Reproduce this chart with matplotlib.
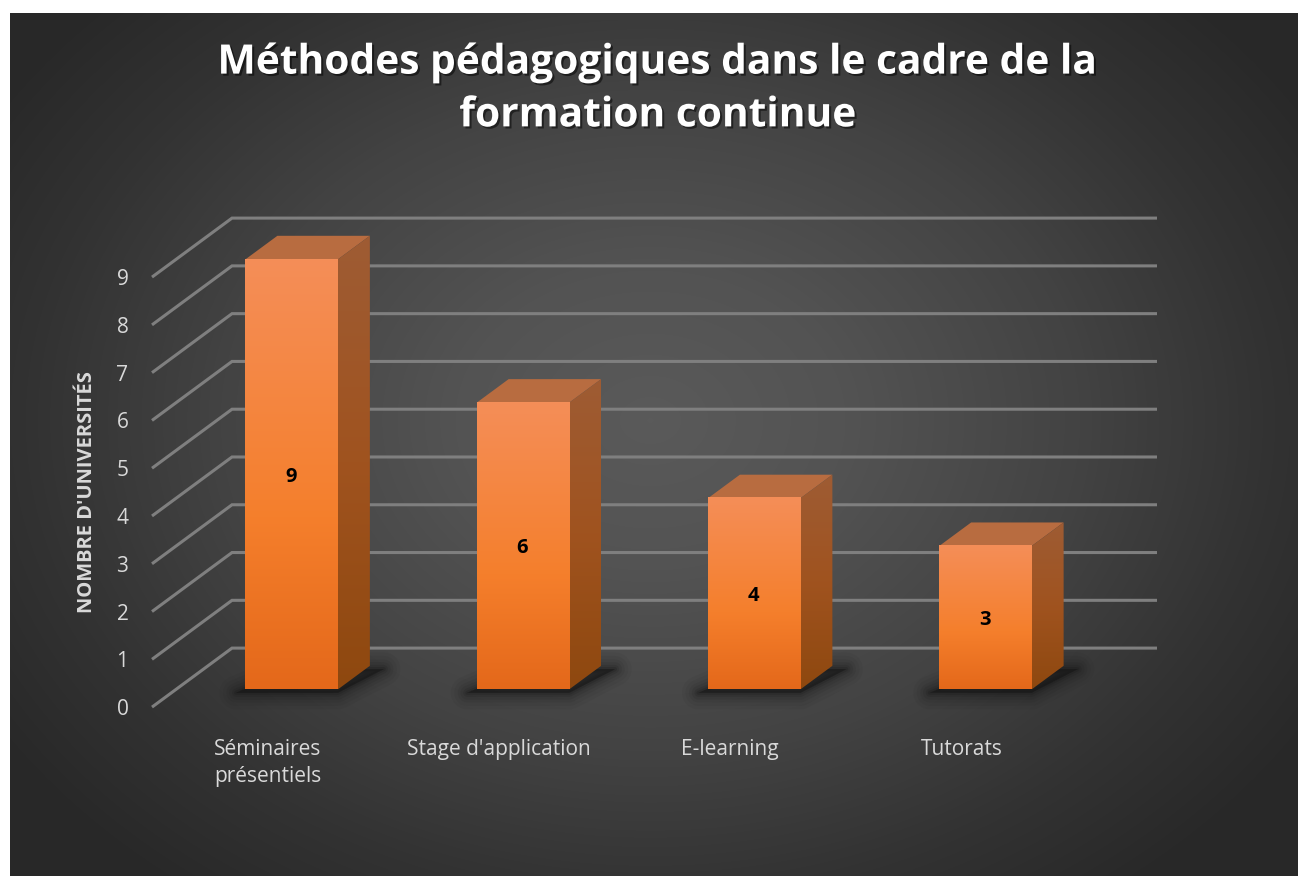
import numpy as np
import matplotlib
matplotlib.use("Agg")
import matplotlib.pyplot as plt
import matplotlib.patheffects as pe
from matplotlib.colors import LinearSegmentedColormap
from matplotlib.patches import Polygon

categories = ["Séminaires\nprésentiels", "Stage d'application", "E-learning", "Tutorats"]
values = [9, 6, 4, 3]
value_ticks = [0, 1, 2, 3, 4, 5, 6, 7, 8, 9]
title = "Méthodes pédagogiques dans le cadre de la\nformation continue"
ylabel = "NOMBRE D'UNIVERSITÉS"

W, H = 1298, 876
plt.rcParams['font.family'] = ['Open Sans', 'DejaVu Sans']
fig = plt.figure(figsize=(W / 100, H / 100), dpi=100, facecolor="white")

# background panel, radial gradient
bg = fig.add_axes([10 / W, 0, (W - 10) / W, (H - 13) / H], zorder=0)
yy, xx = np.mgrid[13:H, 10:W]
r = np.sqrt(((xx - 650) / 780) ** 2 + ((yy - 420) / 600) ** 2)
bg_cmap = LinearSegmentedColormap.from_list("bg", [(0, "#5a5a5a"), (0.25, "#535353"), (0.55, "#434343"),
                                                   (0.8, "#323232"), (1, "#282828")])
bg.imshow(np.clip(r, 0, 1), cmap=bg_cmap, vmin=0, vmax=1, aspect="auto")
bg.axis("off")

# front plane of the 3d box: value 0 at y=707, value 9 at y=277
ax = fig.add_axes([152 / W, (H - 707.1) / H, 925 / W, 430 / H], zorder=1)
ax.patch.set_alpha(0)

# one unit of depth on screen (pixels -> data units)
DX = 80 / 231.25
DY = 59 / (430 / 9)
BAR_HALF = 0.2
D_FRONT, D_BACK = 0.3, 0.7


def pt(x, v, d):
    return (x + d * DX, v + d * DY)


# grid on the wall and the back plane
for v in value_ticks:
    xs, ys = zip(pt(-0.5, v, 0), pt(-0.5, v, 1), pt(3.5, v, 1))
    ax.plot(xs, ys, color="#7f7f7f", lw=2.2, clip_on=False, zorder=1,
            solid_joinstyle="miter", solid_capstyle="butt")

front_cmap = LinearSegmentedColormap.from_list("front", [(0, "#f48e58"), (0.6, "#f57f2c"), (1, "#e4681a")])
side_cmap = LinearSegmentedColormap.from_list("side", ["#9e5c34", "#a0531f", "#8e480f"])
grad = np.linspace(0, 1, 256).reshape(-1, 1)

for i, v in enumerate(values):
    x0, x1 = i - BAR_HALF, i + BAR_HALF

    # soft shadow on the floor
    floor = [pt(x0 - 0.04, -0.07, D_FRONT), pt(x1, -0.07, D_FRONT),
             pt(x1 + 0.06, -0.07, D_BACK), pt(x0 + 0.06, -0.07, D_BACK)]
    for lw, a in [(24, 0.05), (19, 0.06), (14, 0.08), (10, 0.1), (6, 0.14), (3, 0.2)]:
        ax.add_patch(Polygon(floor, closed=True, fc="#141414", ec="#141414", lw=lw,
                             alpha=a, clip_on=False, zorder=2, joinstyle="round"))

    # top face
    ax.add_patch(Polygon([pt(x0, v, D_FRONT), pt(x1, v, D_FRONT), pt(x1, v, D_BACK), pt(x0, v, D_BACK)],
                         closed=True, fc="#b86c40", ec="none", clip_on=False, zorder=3))

    # side face with gradient
    side = Polygon([pt(x1, 0, D_FRONT), pt(x1, v, D_FRONT), pt(x1, v, D_BACK), pt(x1, 0, D_BACK)],
                   closed=True, fc="none", ec="none", transform=ax.transData)
    ax.add_patch(side)
    sx0, sb = pt(x1, 0, D_FRONT)
    sx1, st = pt(x1, v, D_BACK)
    im = ax.imshow(grad, cmap=side_cmap, aspect="auto", extent=(sx0, sx1, sb, st), zorder=3)
    im.set_clip_path(side)
    im.set_clip_box(fig.bbox)

    # front face with gradient
    fx0, fb = pt(x0, 0, D_FRONT)
    fx1, ft = pt(x1, v, D_FRONT)
    ax.imshow(grad, cmap=front_cmap, aspect="auto", extent=(fx0, fx1, fb, ft), zorder=4, clip_on=False)

    lx, ly = pt(i, v / 2 - 0.05, D_FRONT)
    ax.text(lx - 0.003, ly, str(v), ha="center", va="center", color="black",
            fontsize=14.5, fontweight="bold", zorder=5)

ax.set_xlim(-0.5, 3.5)
ax.set_ylim(0, 9)
ax.set_xticks(range(len(categories)))
ax.set_xticklabels(categories, linespacing=1.38)
ax.set_yticks(value_ticks)
ax.tick_params(axis="both", length=0, colors="#d9d9d9", labelsize=15)
ax.tick_params(axis="x", pad=23)
ax.tick_params(axis="y", pad=17)
for s in ax.spines.values():
    s.set_visible(False)
ax.set_ylabel(ylabel, color="#d9d9d9", fontsize=14.5, fontweight="bold", labelpad=14)

fig.text(658 / W, 1 - 89.5 / H, title, ha="center", va="center", color="white",
         fontsize=29.3, fontweight="bold", linespacing=1.38, zorder=5,
         path_effects=[pe.withSimplePatchShadow(offset=(1.5, -1.5), shadow_rgbFace="#000000", alpha=0.5)])

fig.savefig("out.png", dpi=100, facecolor="white")
